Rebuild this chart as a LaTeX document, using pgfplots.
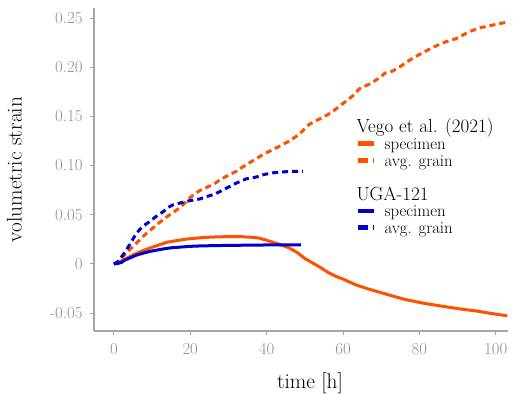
\documentclass[border=0pt]{standalone}
\usepackage{fontspec}
\usepackage{pgfplots}
\pgfplotsset{compat=1.18}
\definecolor{vorange}{RGB}{255,80,0}
\definecolor{ublue}{RGB}{0,0,200}
\definecolor{axgray}{RGB}{165,165,165}
\definecolor{tickgray}{RGB}{145,145,145}
\newcommand\tickfont{\fontsize{16.8bp}{20bp}\selectfont}
\newcommand\labfont{\fontsize{21.3bp}{25bp}\selectfont}
\newcommand\headfont{\fontsize{19bp}{22bp}\selectfont}
\begin{document}
\begin{tikzpicture}
\begin{axis}[
 at={(94bp,65bp)}, anchor=south west,
 scale only axis, width=414bp, height=323bp,
 xmin=-5.2, xmax=103.2, ymin=-0.0683, ymax=0.2602,
 axis x line*=bottom, axis y line*=left,
 axis line style={axgray, line width=1.3bp},
 xtick={0,20,...,100},
 ytick={-0.05,0,0.05,0.10,0.15,0.20,0.25},
 yticklabels={-0.05,0,0.05,0.10,0.15,0.20,0.25},
 tick align=outside, major tick length=4bp,
 every tick/.style={axgray, line width=1bp},
 tick label style={font=\tickfont, text=tickgray},
 xticklabel style={yshift=-5bp},
 yticklabel style={xshift=-4bp},
 /pgf/number format/assume math mode=true,
 xlabel={time [h]}, ylabel={volumetric strain},
 label style={font=\labfont},
 xlabel style={at={(axis description cs:0.5217,-0.1765)}, anchor=base},
 ylabel style={at={(axis description cs:-0.175,0.5)}, anchor=base},
 legend style={draw=none, fill=none, at={(axis description cs:0.6329,0.658)}, anchor=north west,
   inner sep=0pt, outer sep=0pt, row sep=0bp, column sep=8bp, font=\tickfont,
   nodes={inner sep=0pt, outer sep=0pt, text height=14.5bp, text depth=2.3bp}},
 legend cell align=left,
 legend image code/.code={\draw[#1] (0bp,0bp) -- (16bp,0bp);},
 line join=round,
]
% Vego specimen
\addplot[vorange, line width=3bp, forget plot] coordinates {
(0,0) (1,0.001) (2,0.003) (3,0.005) (5,0.009) (7,0.0125) (9.4,0.016) (12,0.0195)
(14,0.022) (17,0.024) (19,0.0252) (22,0.0263) (24,0.0269) (27,0.0274) (30,0.0277)
(33,0.0277) (36,0.0270) (38,0.0262) (40,0.0240) (42,0.0215) (44,0.019) (46,0.016)
(48,0.0115) (50,0.0055) (52,0.001) (54,-0.0035) (56,-0.0085) (58,-0.0125) (60,-0.0155)
(63.4,-0.0214) (67,-0.026) (72,-0.0316) (76,-0.036) (81,-0.040) (85,-0.0425)
(90,-0.0455) (95,-0.048) (100,-0.0512) (103,-0.0528)};
% Vego avg grain
\addplot[vorange, line width=3bp, dash pattern=on 6bp off 4bp, forget plot] coordinates {
(0,0) (1,0.001) (2.4,0.0075) (5,0.0177) (8.5,0.031) (11,0.039) (12.9,0.045) (15,0.051)
(17.3,0.057) (19.9,0.067) (21,0.071) (22.5,0.0745) (25,0.079) (26,0.0806) (28,0.086)
(30.3,0.0908) (32,0.094) (33.5,0.098) (35.6,0.103) (39,0.111) (41,0.115) (43.4,0.1197)
(46,0.125) (48.6,0.132) (51.2,0.142) (54.7,0.149) (57,0.154) (59.1,0.1605) (61,0.166)
(62.6,0.171) (64.3,0.178) (67,0.183) (69.5,0.189) (71,0.194) (73,0.196) (75.5,0.202)
(78.2,0.209) (81,0.215) (83.4,0.220) (87,0.226) (89.6,0.229) (93,0.236) (95.7,0.240)
(98.3,0.242) (100.5,0.244) (102.7,0.2456)};
% UGA specimen
\addplot[ublue, line width=3bp, forget plot] coordinates {
(0,0) (1,0.0003) (2,0.0015) (3,0.004) (4.5,0.0065) (6,0.009) (8,0.0112) (9.4,0.0126)
(11,0.0138) (13,0.0152) (15,0.0163) (17.3,0.017) (20,0.0178) (22.5,0.0182) (27,0.0186)
(33,0.0189) (40,0.0192) (45,0.0194) (49,0.0193)};
% UGA avg grain
\addplot[ublue, line width=3bp, dash pattern=on 6bp off 4bp, forget plot] coordinates {
(0,0) (1,0.002) (2,0.007) (3.3,0.014) (4.5,0.022) (5.9,0.031) (7.5,0.038) (9.4,0.043)
(11,0.048) (12.9,0.053) (14,0.057) (15.5,0.060) (17,0.0615) (19,0.0636) (21,0.065)
(22.5,0.066) (24,0.068) (26.5,0.071) (29,0.076) (32,0.082) (34.7,0.0865) (37,0.088)
(39.5,0.091) (41.6,0.0925) (44,0.0935) (47,0.094) (49.5,0.094)};
% legend
\addlegendimage{empty legend}
\addlegendentry{\headfont\hspace*{-28bp}Vego et al. (2021)}
\addlegendimage{vorange, line width=4.5bp}
\addlegendentry{specimen}
\addlegendimage{vorange, line width=4.5bp, dash pattern=on 10bp off 5bp}
\addlegendentry{avg. grain}
\addlegendimage{empty legend}
\addlegendentry{\mbox{}}
\addlegendimage{empty legend}
\addlegendentry{\headfont\hspace*{-28bp}UGA-121}
\addlegendimage{ublue, line width=4.5bp}
\addlegendentry{specimen}
\addlegendimage{ublue, line width=4.5bp, dash pattern=on 10bp off 5bp}
\addlegendentry{avg. grain}
\end{axis}
\pgfresetboundingbox
\path[use as bounding box] (0,0) rectangle (515bp,396bp);
\end{tikzpicture}
\end{document}
